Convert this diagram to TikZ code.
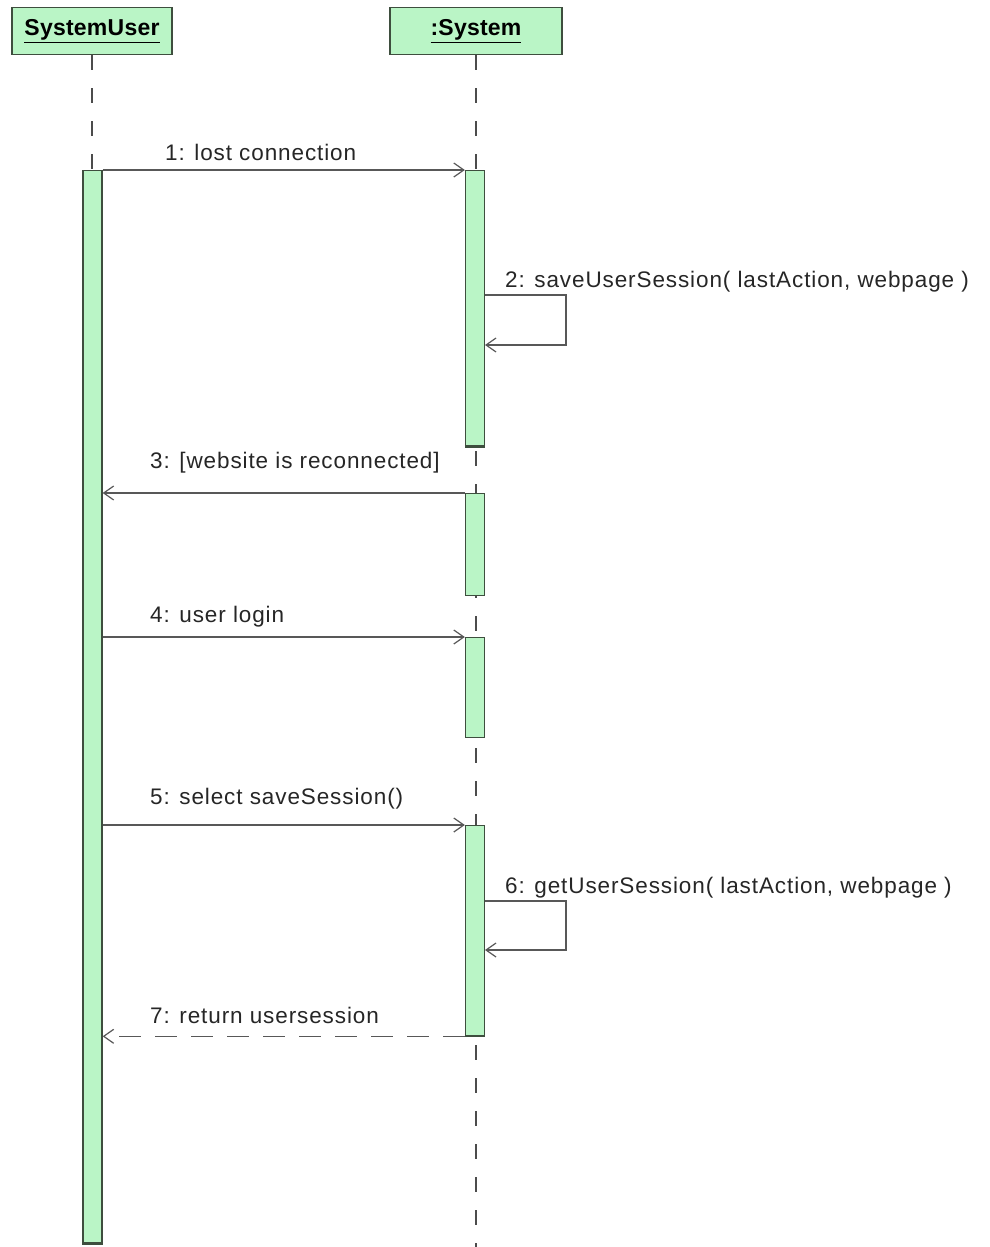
\documentclass[tikz,border=0pt]{standalone}
\usepackage{fontspec}
\setmainfont{Liberation Sans}
\newfontfamily\lblfont[LetterSpace=4]{Liberation Sans}
\newfontfamily\headfont[LetterSpace=1]{Liberation Sans}
\usetikzlibrary{arrows.meta}
\definecolor{actfill}{RGB}{186,245,198}
\definecolor{actline}{RGB}{62,78,62}
\definecolor{msgline}{RGB}{88,88,88}
\tikzset{
  x=1pt, y=-1pt,
  head/.style={draw=actline, fill=actfill, line width=1.6pt, minimum height=47pt,
    inner sep=0pt, font=\headfont\fontsize{23}{24}\selectfont\bfseries},
  bar/.style={draw=actline, fill=actfill, line width=1.3pt, minimum width=19pt, inner sep=0pt},
  life/.style={draw=black!70, line width=1.2pt, dash pattern=on 15pt off 18pt},
  msg/.style={draw=msgline, line width=1.2pt, -{Straight Barb[length=10pt,width=14pt,line width=1.2pt]}},
  ret/.style={msg, dash pattern=on 22pt off 14pt},
  lbl/.style={anchor=base west, inner sep=0pt, text=black!85, font=\lblfont\fontsize{22.5}{24}\selectfont}
}
\begin{document}
\begin{tikzpicture}
\useasboundingbox (0,0) rectangle (989,1247);
% lifeline heads
\node[head, minimum width=160pt] (user) at (92,31) {\underline{SystemUser}};
\node[head, minimum width=172pt] (sys) at (476,31) {\underline{:System}};
% lifelines
\coordinate (sysend) at (476,1247);
\draw[life] (sys.south) -- (sysend);
\coordinate (usertop) at (92,170);
\draw[life] (user.south) -- (usertop);
% activation bars
\node[bar, minimum height=1072pt, anchor=north] (ua) at (92.5,170) {};
\node[bar, minimum height=275pt, anchor=north] (sa1) at (475,170) {};
\node[bar, minimum height=102pt, anchor=north] (sa2) at (475,493) {};
\node[bar, minimum height=100pt, anchor=north] (sa3) at (475,637) {};
\node[bar, minimum height=210pt, anchor=north] (sa4) at (475,825) {};
% thicker bar ends
\draw[actline, line width=2.5pt] (ua.south west) -- (ua.south east);
\draw[actline, line width=2.5pt] (sa1.south west) -- (sa1.south east);
\draw[actline, line width=2pt] (sa4.south west) -- (sa4.south east);
% messages
\draw[msg] (ua.north east) -- (sa1.north west);
\node[lbl] (m1) at (165,160) {1: lost connection};

\coordinate (s2a) at (485,295);
\coordinate (s2b) at (566,295);
\coordinate (s2c) at (566,345);
\coordinate (s2d) at (485,345);
\draw[msg] (s2a) -- (s2b) -- (s2c) -- (s2d);
\node[lbl] (m2) at (505,287) {2: saveUserSession( lastAction, webpage )};

\draw[msg] (sa2.north west) -- (ua.east |- sa2.north);
\node[lbl] (m3) at (150,468) {3: [website is reconnected]};

\draw[msg] (ua.east |- sa3.north) -- (sa3.north west);
\node[lbl] (m4) at (150,622) {4: user login};

\draw[msg] (ua.east |- sa4.north) -- (sa4.north west);
\node[lbl] (m5) at (150,804) {5: select saveSession()};

\coordinate (s6a) at (485,901);
\coordinate (s6b) at (566,901);
\coordinate (s6c) at (566,950);
\coordinate (s6d) at (485,950);
\draw[msg] (s6a) -- (s6b) -- (s6c) -- (s6d);
\node[lbl] (m6) at (505,893) {6: getUserSession( lastAction, webpage )};

\draw[ret] (sa4.south west) -- (ua.east |- sa4.south);
\node[lbl] (m7) at (150,1023) {7: return usersession};
\end{tikzpicture}
\end{document}
